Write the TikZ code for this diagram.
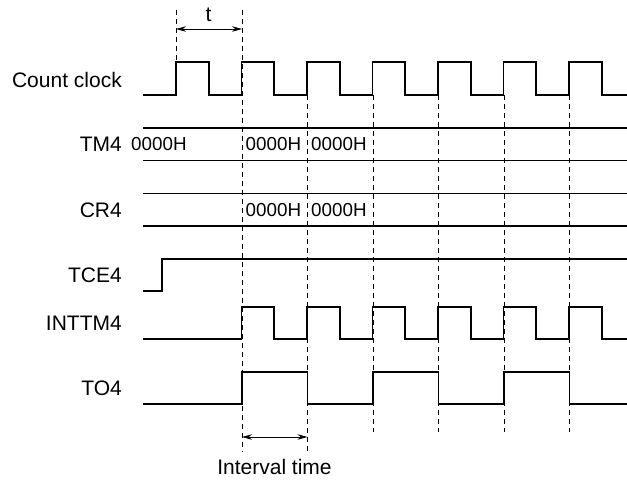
\documentclass[tikz,border=0pt]{standalone}
\usepackage{fontspec}
\setmainfont{Liberation Sans}
\usetikzlibrary{arrows.meta}
\begin{document}
\begin{tikzpicture}[x=1pt,y=-1pt,
  sig/.style={line width=1.8pt,line join=miter},
  guide/.style={line width=0.7pt,dash pattern=on 5pt off 4pt},
  dim/.style={line width=0.7pt,{Stealth[length=10pt,width=5.5pt]}-{Stealth[length=10pt,width=5.5pt]}},
  lbl/.style={anchor=east,inner sep=0pt,font=\fontsize{21}{23}\selectfont},
  val/.style={anchor=west,inner sep=0pt,font=\fontsize{18.8}{20}\selectfont}]
\useasboundingbox (0,0) rectangle (627,481);
% guides
\draw[guide] (176,10) -- (176,62);
\draw[guide] (242,10) -- (242,452);
\draw[guide] (307.5,95) -- (307.5,452);
\foreach \x in {373,438.5,504,569.5} \draw[guide] (\x,95) -- (\x,432);
% t dimension
\coordinate (t1) at (176,29);
\coordinate (t2) at (242,29);
\draw[dim] (t1) -- (t2);
\node[inner sep=0pt,font=\fontsize{21}{23}\selectfont] (tl) at (208.5,15) {t};
% labels
\node[lbl] (lclk) at (122,80) {Count clock};
\node[lbl] (ltm) at (122,144) {TM4};
\node[lbl] (lcr) at (122,210) {CR4};
\node[lbl] (ltce) at (122,275) {TCE4};
\node[lbl] (lint) at (122,323) {INTTM4};
\node[lbl] (lto) at (122,388) {TO4};
% clock
\draw[sig] (143,95) -- (176,95)
  \foreach \k in {0,...,6} { -- ({176+65.5*\k},95) -- ({176+65.5*\k},62) -- ({208.75+65.5*\k},62) -- ({208.75+65.5*\k},95) }
  -- (627,95);
% TM4 bus
\draw[sig] (143,128) -- (627,128);
\draw[sig] (143,160.5) -- (627,160.5);
\node[val] (tm0) at (131,144) {0000H};
\node[val] (tm1) at (245.5,144) {0000H};
\node[val] (tm2) at (311,144) {0000H};
% CR4 bus
\draw[sig] (143,193.5) -- (627,193.5);
\draw[sig] (143,226) -- (627,226);
\node[val] (cr1) at (245.5,210) {0000H};
\node[val] (cr2) at (311,210) {0000H};
% TCE4
\draw[sig] (143,291) -- (162,291) -- (162,259) -- (627,259);
% INTTM4
\draw[sig] (143,339)
  \foreach \k in {1,...,6} { -- ({176+65.5*\k},339) -- ({176+65.5*\k},307) -- ({208.75+65.5*\k},307) -- ({208.75+65.5*\k},339) }
  -- (627,339);
% TO4
\draw[sig] (143,404) -- (242,404) -- (242,372) -- (307.5,372) -- (307.5,404)
  -- (373,404) -- (373,372) -- (438.5,372) -- (438.5,404)
  -- (504,404) -- (504,372) -- (569.5,372) -- (569.5,404) -- (627,404);
% interval
\coordinate (i1) at (242,437);
\coordinate (i2) at (307.5,437);
\draw[dim] (i1) -- (i2);
\node[inner sep=0pt,font=\fontsize{21}{23}\selectfont] (il) at (274.5,467) {Interval time};
\end{tikzpicture}
\end{document}
